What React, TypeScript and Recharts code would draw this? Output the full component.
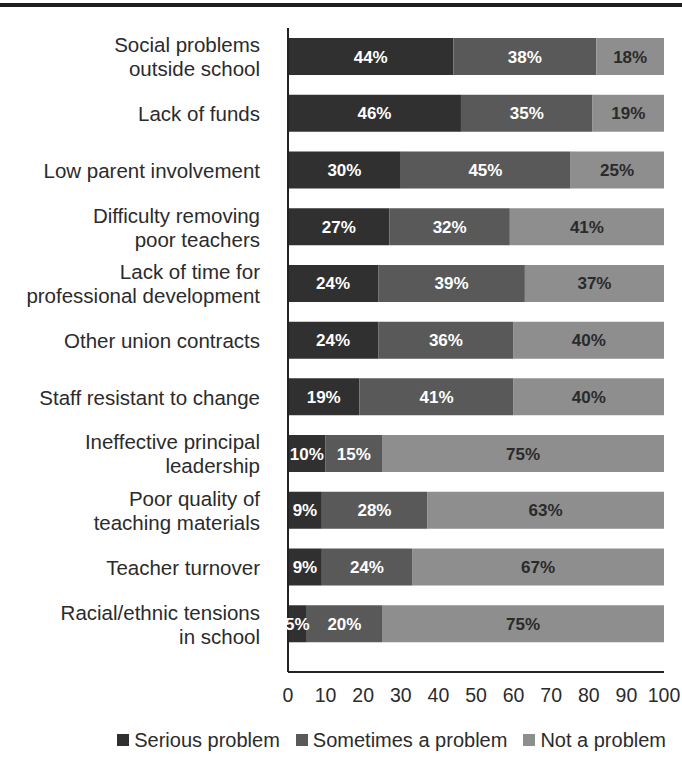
import React from "react";
import {
  BarChart,
  Bar,
  XAxis,
  YAxis,
  Legend,
  LabelList,
} from "recharts";

const categories = [
  "Social problems\noutside school",
  "Lack of funds",
  "Low parent involvement",
  "Difficulty removing\npoor teachers",
  "Lack of time for\nprofessional development",
  "Other union contracts",
  "Staff resistant to change",
  "Ineffective principal\nleadership",
  "Poor quality of\nteaching materials",
  "Teacher turnover",
  "Racial/ethnic tensions\nin school",
];

const serious = [44, 46, 30, 27, 24, 24, 19, 10, 9, 9, 5];
const sometimes = [38, 35, 45, 32, 39, 36, 41, 15, 28, 24, 20];
const notProblem = [18, 19, 25, 41, 37, 40, 40, 75, 63, 67, 75];

const xTicks = [0, 10, 20, 30, 40, 50, 60, 70, 80, 90, 100];

const data = categories.map((name, i) => ({
  name,
  serious: serious[i],
  sometimes: sometimes[i],
  notProblem: notProblem[i],
}));

const FONT = "'Liberation Sans', Arial, Helvetica, sans-serif";
const TEXT = "#2b2b2b";
const C_DARK = "#303030";
const C_MID = "#595959";
const C_LIGHT = "#8e8e8e";

const legendItems = [
  { label: "Serious problem", color: C_DARK },
  { label: "Sometimes a problem", color: C_MID },
  { label: "Not a problem", color: C_LIGHT },
];

function CategoryTick(props: any) {
  const { x, y, payload } = props;
  const lines = String(payload.value).split("\n");
  const lh = 24;
  const start = -((lines.length - 1) * lh) / 2;
  return (
    <text x={x - 20} y={y} textAnchor="end" fill={TEXT} fontSize={20.5} fontFamily={FONT}>
      {lines.map((l, i) => (
        <tspan key={i} x={x - 20} dy={i === 0 ? start + 8 : lh}>
          {l}
        </tspan>
      ))}
    </text>
  );
}

function LegendBox() {
  return (
    <div style={{ display: "flex", justifyContent: "flex-end", fontFamily: FONT, fontSize: 20, color: TEXT, lineHeight: "24px" }}>
      {legendItems.map((it) => (
        <span key={it.label} style={{ display: "inline-flex", alignItems: "center", marginLeft: 16 }}>
          <span style={{ width: 12, height: 12, background: it.color, marginRight: 5, display: "inline-block" }} />
          {it.label}
        </span>
      ))}
    </div>
  );
}

const pct = (v: any) => `${v}%`;

export default function App() {
  return (
    <div style={{ position: "absolute", left: 0, top: 0, width: 682, height: 771, background: "#fff" }}>
      <div style={{ position: "absolute", left: 0, top: 3, width: 682, height: 4, background: "#1e1e1e" }} />
      <BarChart
        width={682}
        height={771}
        data={data}
        layout="vertical"
        margin={{ top: 28, right: 18, left: 0, bottom: 35 }}
        barSize={37}
      >
        <XAxis
          type="number"
          domain={[0, 100]}
          ticks={xTicks}
          interval={0}
          tickLine={false}
          axisLine={{ stroke: "#222", strokeWidth: 2 }}
          tick={{ fill: TEXT, fontSize: 19.5, fontFamily: FONT }}
          tickMargin={10}
          height={40}
        />
        <YAxis
          type="category"
          dataKey="name"
          width={288}
          tickLine={false}
          axisLine={{ stroke: "#222", strokeWidth: 2 }}
          tick={<CategoryTick />}
          interval={0}
          padding={{ top: 0, bottom: 20 }}
        />
        <Legend
          verticalAlign="bottom"
          content={<LegendBox />}
          wrapperStyle={{ bottom: 19, left: 0, width: 666 }}
        />
        <Bar dataKey="serious" name="Serious problem" stackId="a" fill={C_DARK} isAnimationActive={false}>
          <LabelList dataKey="serious" position="center" formatter={pct} fill="#fff" fontSize={17} fontWeight="bold" fontFamily={FONT} />
        </Bar>
        <Bar dataKey="sometimes" name="Sometimes a problem" stackId="a" fill={C_MID} isAnimationActive={false}>
          <LabelList dataKey="sometimes" position="center" formatter={pct} fill="#fff" fontSize={17} fontWeight="bold" fontFamily={FONT} />
        </Bar>
        <Bar dataKey="notProblem" name="Not a problem" stackId="a" fill={C_LIGHT} isAnimationActive={false}>
          <LabelList dataKey="notProblem" position="center" formatter={pct} fill="#2a2a2a" fontSize={17} fontWeight="bold" fontFamily={FONT} />
        </Bar>
      </BarChart>
    </div>
  );
}
